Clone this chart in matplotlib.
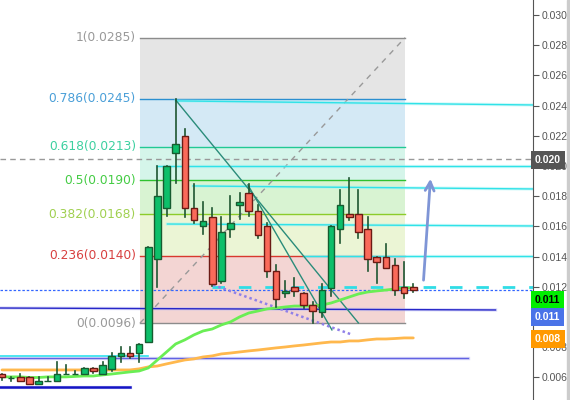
import matplotlib
matplotlib.use("Agg")
import matplotlib.pyplot as plt
from matplotlib.patches import Rectangle

# candles (open, high, low, close), one per bar index
opens = [0.00623, 0.00597, 0.00604, 0.00604, 0.00557, 0.00577, 0.00577, 0.00623, 0.00623, 0.00623,
         0.00663, 0.00623, 0.00657, 0.00743, 0.00762, 0.00762, 0.00835, 0.01385, 0.01722, 0.02086,
         0.02199, 0.01722, 0.01603, 0.01663, 0.01239, 0.01583, 0.01742, 0.01822, 0.01702, 0.01603,
         0.01305, 0.01160, 0.01199, 0.01160, 0.01080, 0.01034, 0.01193, 0.01583, 0.01683, 0.01683,
         0.01583, 0.01398, 0.01398, 0.01345, 0.01199, 0.01199]
highs = [0.00623, 0.00600, 0.00623, 0.00604, 0.00604, 0.00604, 0.00703, 0.00683, 0.00643, 0.00663,
         0.00663, 0.00703, 0.00762, 0.00802, 0.00802, 0.00822, 0.01464, 0.02000, 0.02000, 0.02444,
         0.02245, 0.01881, 0.01762, 0.01722, 0.01663, 0.01802, 0.01822, 0.01881, 0.01742, 0.01623,
         0.01345, 0.01239, 0.01259, 0.01160, 0.01100, 0.01219, 0.01603, 0.01841, 0.01921, 0.01841,
         0.01663, 0.01398, 0.01484, 0.01385, 0.01365, 0.01219]
lows = [0.00584, 0.00577, 0.00577, 0.00557, 0.00557, 0.00577, 0.00577, 0.00623, 0.00623, 0.00623,
        0.00630, 0.00623, 0.00643, 0.00703, 0.00729, 0.00703, 0.00835, 0.01199, 0.01669, 0.01888,
        0.01663, 0.01623, 0.01550, 0.01206, 0.01226, 0.01530, 0.01650, 0.01669, 0.01524, 0.01266,
        0.01067, 0.01133, 0.01140, 0.01060, 0.00961, 0.01001, 0.01140, 0.01491, 0.01643, 0.01524,
        0.01305, 0.01226, 0.01325, 0.01146, 0.01127, 0.01166]
closes = [0.00604, 0.00597, 0.00577, 0.00557, 0.00577, 0.00577, 0.00623, 0.00623, 0.00623, 0.00663,
          0.00643, 0.00683, 0.00743, 0.00762, 0.00743, 0.00822, 0.01464, 0.01802, 0.02000, 0.02146,
          0.01722, 0.01643, 0.01636, 0.01219, 0.01563, 0.01623, 0.01762, 0.01702, 0.01544, 0.01305,
          0.01120, 0.01173, 0.01173, 0.01080, 0.01040, 0.01179, 0.01603, 0.01742, 0.01663, 0.01563,
          0.01385, 0.01365, 0.01325, 0.01179, 0.01160, 0.01179]

# moving averages
ma_green = [0.00604, 0.00604, 0.00604, 0.00600, 0.00600, 0.00604, 0.00604, 0.00604, 0.00607, 0.00610,
            0.00610, 0.00617, 0.00623, 0.00630, 0.00637, 0.00643, 0.00663, 0.00716, 0.00769, 0.00822,
            0.00849, 0.00882, 0.00908, 0.00921, 0.00948, 0.00968, 0.01001, 0.01027, 0.01040, 0.01054,
            0.01060, 0.01067, 0.01073, 0.01073, 0.01073, 0.01080, 0.01093, 0.01113, 0.01133, 0.01153,
            0.01166, 0.01173, 0.01179, 0.01186, 0.01193, 0.01193]
ma_orange = [0.00650, 0.00650, 0.00650, 0.00650, 0.00650, 0.00650, 0.00650, 0.00650, 0.00650, 0.00650,
             0.00650, 0.00650, 0.00650, 0.00650, 0.00650, 0.00657, 0.00670, 0.00676, 0.00690, 0.00703,
             0.00716, 0.00723, 0.00736, 0.00743, 0.00756, 0.00762, 0.00769, 0.00776, 0.00782, 0.00789,
             0.00796, 0.00802, 0.00809, 0.00815, 0.00822, 0.00829, 0.00835, 0.00835, 0.00842, 0.00842,
             0.00849, 0.00855, 0.00855, 0.00858, 0.00862, 0.00862]

# fibonacci retracement
fib_ratios = ["1", "0.786", "0.618", "0.5", "0.382", "0.236", "0"]
fib_prices = [0.0285, 0.02446, 0.02128, 0.01905, 0.01682, 0.01406, 0.0096]
fib_labels = ["0.0285", "0.0245", "0.0213", "0.0190", "0.0168", "0.0140", "0.0096"]
fib_line_colors = ["#8c8c8c", "#2b8fd0", "#22c994", "#2ec12e", "#8ccc2a", "#d8382e", "#8c8c8c"]
fib_text_colors = ["#999999", "#4a9fd8", "#3dd0a0", "#44cc44", "#a0d050", "#d84040", "#999999"]
fib_fill_colors = ["#e5e5e5", "#d4e9f5", "#d5f5ea", "#d8f3d2", "#ebf5d5", "#f3d5d3"]
fib_x = [15.1, 44.1]

# drawn tools (x in bar index, y in price)
cyan_lines = [((19.0, 0.02431), (58.2, 0.02404)),
              ((17.0, 0.02000), (58.2, 0.02000)),
              ((20.9, 0.01868), (58.2, 0.01848)),
              ((18.1, 0.01616), (58.2, 0.01603)),
              ((33.0, 0.01405), (58.2, 0.01405))]
cyan_dashed = ((23.0, 0.01199), (58.2, 0.01199))
trend_lines = [((19.0, 0.02437), (39.0, 0.00961)),
               ((26.9, 0.01875), (36.1, 0.00915))]
purple_dotted = ((23.1, 0.01213), (38.1, 0.00888))
blue_line = ((-0.3, 0.01060), (54.0, 0.01047))
low_cyan = ((-0.3, 0.00743), (16.0, 0.00743))
low_blue = ((-0.3, 0.00729), (51.0, 0.00729))
bottom_blue = ((-0.3, 0.00537), (14.0, 0.00537))
grey_level = 0.02047
last_price = 0.01179
arrow = ((46.1, 0.01226), (46.9, 0.01934))

price_tags = ["0.020", "0.011", "0.011", "0.008"]
tag_prices = [0.0204, 0.01113, 0.0100, 0.00855]
tag_bg = ["#555555", "#00ee00", "#4a73e8", "#ff9900"]
tag_fg = ["white", "black", "white", "white"]
yticks = [0.006, 0.008, 0.010, 0.012, 0.014, 0.016, 0.018, 0.020, 0.022, 0.024, 0.026, 0.028, 0.030]

fig = plt.figure(figsize=(5.7, 4), dpi=100)
ax = fig.add_axes([0, 0, 533 / 570, 1])
ax.set_xlim(-0.22, 58.1)
ax.set_ylim(0.00451, 0.03099)

# fib boxes
for k in range(len(fib_fill_colors)):
    ax.fill_between(fib_x, fib_prices[k + 1], fib_prices[k], color=fib_fill_colors[k], lw=0, zorder=0)
for k in range(len(fib_prices)):
    ax.plot(fib_x, [fib_prices[k]] * 2, color=fib_line_colors[k], lw=1, zorder=1)
    ax.text(fib_x[0] - 0.45, fib_prices[k], fib_ratios[k] + "(" + fib_labels[k] + ")",
            ha="right", va="center", color=fib_text_colors[k], fontsize=8.8, family="DejaVu Sans")
ax.plot(fib_x, [fib_prices[-1], fib_prices[0]], color="#999999", lw=1, ls=(0, (4, 4)), zorder=1)

# horizontal tools
ax.axhline(grey_level, color="#999999", lw=1, ls=(0, (4, 3)), zorder=1)
for (x0, y0), (x1, y1) in cyan_lines:
    ax.plot([x0, x1], [y0, y1], color="#9ff4f4", lw=2.4, alpha=0.45, zorder=1.5)
    ax.plot([x0, x1], [y0, y1], color="#30e2e8", lw=1, zorder=1.6)
(x0, y0), (x1, y1) = cyan_dashed
ax.plot([x0, x1], [y0, y1], color="#30dde6", lw=2, ls=(0, (4.5, 5)), zorder=1.6)
ax.axhline(last_price, color="#3366ff", lw=0.9, ls=(0, (2, 1.5)), zorder=1.7)

for (x0, y0), (x1, y1) in [blue_line, low_blue, bottom_blue]:
    ax.plot([x0, x1], [y0, y1], color="#b8b8f4", lw=2.4, alpha=0.5, zorder=1.5)
ax.plot(*zip(*blue_line), color="#2626c8", lw=1, zorder=1.6)
ax.plot(*zip(*low_blue), color="#6262e2", lw=1, zorder=1.6)
ax.plot(*zip(*low_cyan), color="#30e2ee", lw=1.2, zorder=1.7)
ax.plot(*zip(*bottom_blue), color="#1414c4", lw=1.8, zorder=1.6)

for (x0, y0), (x1, y1) in trend_lines:
    ax.plot([x0, x1], [y0, y1], color="#2a8c7a", lw=1, zorder=1.8)
ax.plot(*zip(*purple_dotted), color="#9080e8", lw=1.8, ls=(0, (1, 1.2)), zorder=1.8)

# moving averages
idx = list(range(len(opens)))
ax.plot(idx, ma_orange, color="#ffb84d", lw=2, zorder=2, solid_capstyle="round")
ax.plot(idx, ma_green, color="#6aee55", lw=2, zorder=2, solid_capstyle="round")

# candles
for i in idx:
    up = closes[i] >= opens[i]
    ax.plot([i, i], [lows[i], highs[i]], color="#1e5631", lw=1.2, zorder=3)
    ax.bar(i, abs(closes[i] - opens[i]), bottom=min(opens[i], closes[i]), width=0.72,
           color="#0dbf6a" if up else "#fa6a5a", edgecolor="#165c30" if up else "#6b1a14",
           lw=1, zorder=3.5)

ax.annotate("", xy=arrow[1], xytext=arrow[0],
            arrowprops=dict(arrowstyle="->", color="#7f95d6", lw=2, mutation_scale=16), zorder=4)

# right price axis
for s in ["top", "left", "bottom"]:
    ax.spines[s].set_visible(False)
ax.spines["right"].set_color("#555555")
ax.set_xticks([])
ax.yaxis.tick_right()
ax.set_yticks(yticks)
ax.set_yticklabels(["" if abs(v - 0.010) < 1e-9 else "%.3f" % v for v in yticks])
ax.tick_params(axis="y", colors="#555555", labelsize=7.5, length=4, pad=2)
for lab in ax.get_yticklabels():
    lab.set_family("Liberation Sans")
for k in range(len(price_tags)):
    ax.annotate(price_tags[k], xy=(1, tag_prices[k]), xycoords=("axes fraction", "data"),
                xytext=(1.5, 0), textcoords="offset points", ha="left", va="center",
                fontsize=7.5, family="Liberation Sans", weight="bold", color=tag_fg[k],
                bbox=dict(boxstyle="square,pad=0.35", fc=tag_bg[k], ec="none"),
                annotation_clip=False, zorder=10)

fig.patches.append(Rectangle((567 / 570, 0), 3 / 570, 1, transform=fig.transFigure,
                             color="#cccccc", zorder=0))
fig.savefig("out.png", dpi=100)
